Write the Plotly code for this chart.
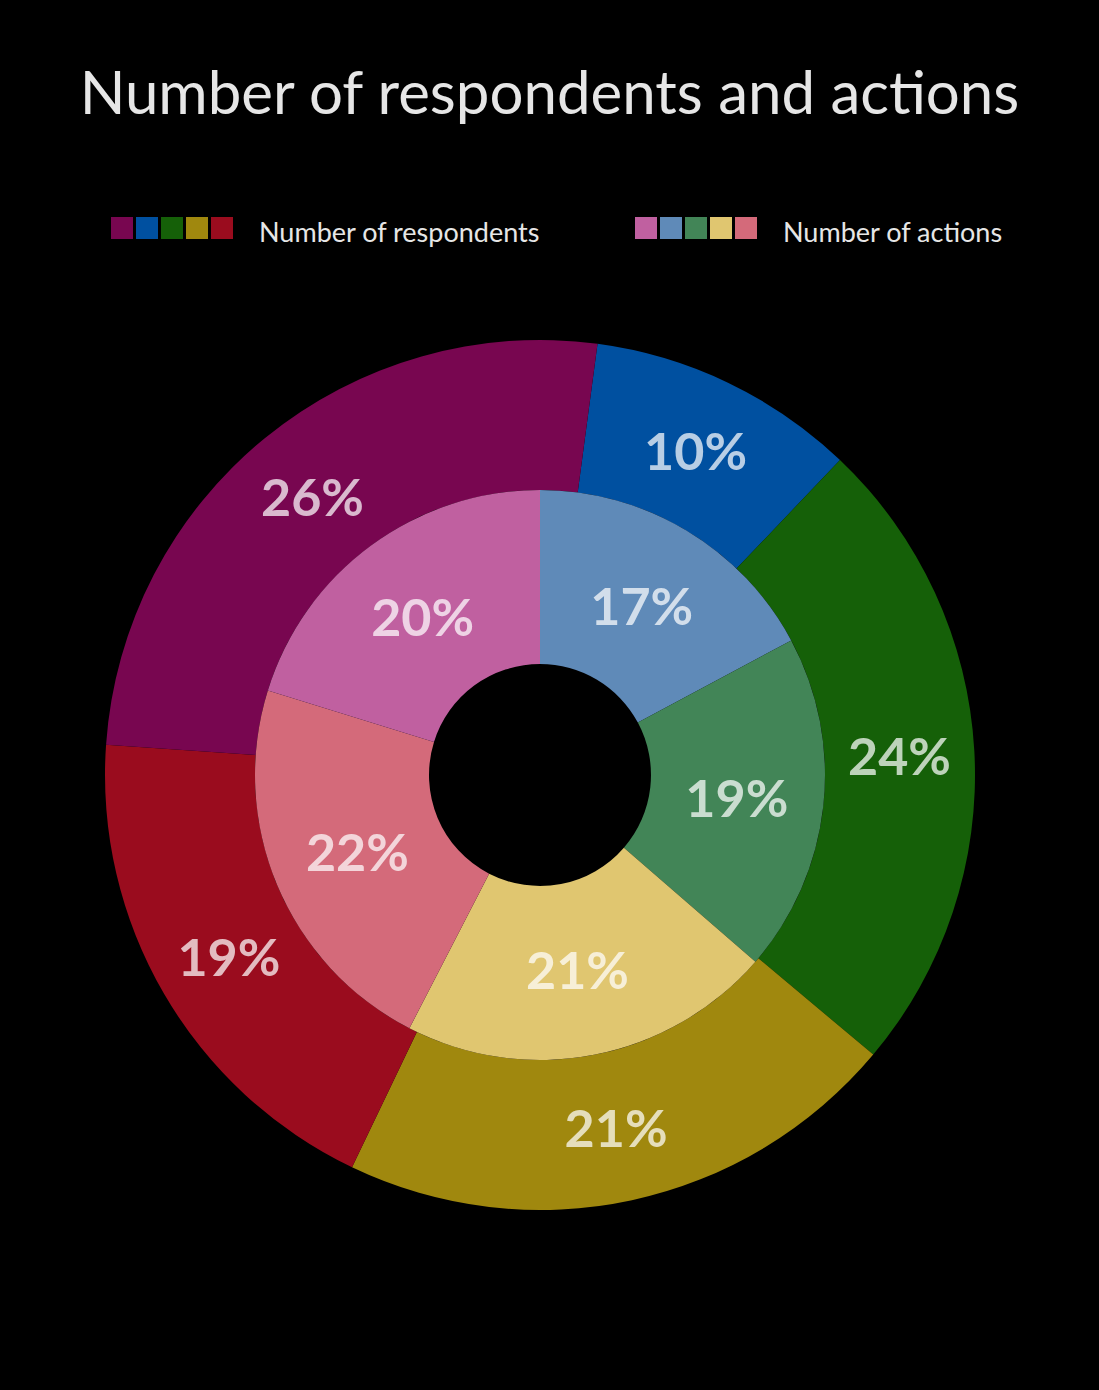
import plotly.graph_objects as go

# data (clockwise order)
outer_labels = ["B", "C", "D", "E", "A"]
outer_values = [10, 24, 21, 19, 26]
outer_colors = ["#0050a0", "#156008", "#a0880e", "#9a0c1e", "#780650"]

inner_labels = ["B", "C", "D", "E", "A"]
inner_values = [17, 19, 21, 22, 20]
inner_colors = ["#5f8ab8", "#428557", "#e0c670", "#d46a7a", "#c060a0"]

legend_names = ["Number of respondents", "Number of actions"]
legend_colors = [
    ["#780650", "#0050a0", "#156008", "#a0880e", "#9a0c1e"],
    ["#c060a0", "#5f8ab8", "#428557", "#e0c670", "#d46a7a"],
]

W, H = 1099, 1390
cx, cy = 540, 775
r_out, r_in, r_hole = 435, 285, 111


def dom(r):
    return dict(x=[(cx - r) / W, (cx + r) / W],
                y=[(H - cy - r) / H, (H - cy + r) / H])


label_font = dict(family="Lato", size=52, color="rgba(255,255,255,0.72)")

fig = go.Figure()
fig.add_trace(go.Pie(
    labels=outer_labels, values=outer_values, sort=False,
    direction="clockwise", rotation=7.6, hole=r_in / r_out,
    domain=dom(r_out), marker=dict(colors=outer_colors, line=dict(width=0)),
    texttemplate="<b>%{value}%</b>", textposition="inside",
    insidetextorientation="horizontal", textfont=label_font,
    showlegend=False, hoverinfo="skip",
))
fig.add_trace(go.Pie(
    labels=inner_labels, values=inner_values, sort=False,
    direction="clockwise", rotation=0, hole=r_hole / r_in,
    domain=dom(r_in), marker=dict(colors=inner_colors, line=dict(width=0)),
    texttemplate="<b>%{value}%</b>", textposition="inside",
    insidetextorientation="horizontal", textfont=label_font,
    showlegend=False, hoverinfo="skip",
))

# hand-made legend: five swatches + name for each ring
shapes = []
annotations = []
group_x = [111, 635]
for g in range(2):
    for i, c in enumerate(legend_colors[g]):
        x0 = group_x[g] + i * 25
        shapes.append(dict(type="rect", xref="paper", yref="paper",
                           x0=x0 / W, x1=(x0 + 22) / W,
                           y0=(H - 239) / H, y1=(H - 217) / H,
                           fillcolor=c, line=dict(width=0)))
    annotations.append(dict(text=legend_names[g], xref="paper", yref="paper",
                            x=(group_x[g] + 146) / W, y=(H - 232) / H,
                            xanchor="left", yanchor="middle", showarrow=False,
                            font=dict(family="Lato", size=27, color="#e6e6e6")))

fig.update_layout(
    width=W, height=H,
    paper_bgcolor="black", plot_bgcolor="black",
    margin=dict(l=0, r=0, t=0, b=0),
    title=dict(text="Number of respondents and actions", x=0.5, xanchor="center",
               y=(H - 93) / H, yanchor="middle",
               font=dict(family="Lato", size=60, color="#e6e6e6")),
    shapes=shapes, annotations=annotations,
)

fig.write_html("out.html", config={"displayModeBar": False},
               post_script="document.body.style.margin='0';"
                           "document.body.style.background='black';")
